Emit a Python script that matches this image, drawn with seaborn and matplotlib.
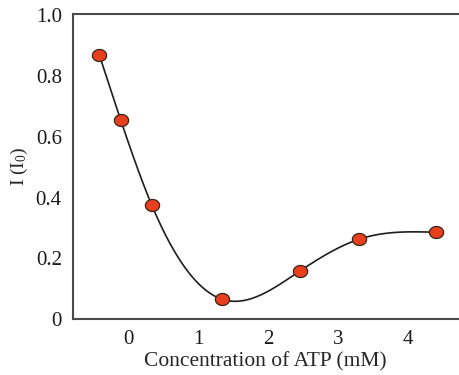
import numpy as np
import pandas as pd
import matplotlib
matplotlib.use("Agg")
import matplotlib.pyplot as plt
import seaborn as sns

# === data ===
atp_mM = [-0.42, -0.115, 0.33, 1.33, 2.45, 3.30, 4.40]
intensity = [0.868, 0.655, 0.375, 0.066, 0.158, 0.263, 0.286]
x_ticks = [0, 1, 2, 3, 4]
y_ticks = [0, 0.2, 0.4, 0.6, 0.8, 1.0]
y_tick_labels = ["0", "0.2", "0.4", "0.6", "0.8", "1.0"]


def natural_spline(x, y, xs):
    # natural cubic spline through the measured points (no scipy needed)
    x = np.asarray(x, float)
    y = np.asarray(y, float)
    n = len(x)
    h = np.diff(x)
    A = np.zeros((n, n))
    b = np.zeros(n)
    A[0, 0] = A[-1, -1] = 1
    for i in range(1, n - 1):
        A[i, i - 1] = h[i - 1]
        A[i, i] = 2 * (h[i - 1] + h[i])
        A[i, i + 1] = h[i]
        b[i] = 3 * ((y[i + 1] - y[i]) / h[i] - (y[i] - y[i - 1]) / h[i - 1])
    c = np.linalg.solve(A, b)
    out = np.empty_like(xs)
    for k, v in enumerate(xs):
        i = min(max(np.searchsorted(x, v) - 1, 0), n - 2)
        d = v - x[i]
        bi = (y[i + 1] - y[i]) / h[i] - h[i] * (2 * c[i] + c[i + 1]) / 3
        di = (c[i + 1] - c[i]) / (3 * h[i])
        out[k] = y[i] + bi * d + c[i] * d ** 2 + di * d ** 3
    return out


df = pd.DataFrame({"atp": atp_mM, "I": intensity})
xs = np.linspace(min(atp_mM), max(atp_mM), 400)
curve = pd.DataFrame({"atp": xs, "I": natural_spline(atp_mM, intensity, xs)})

sns.set_style("white")
plt.rcParams["font.family"] = ["Liberation Serif", "DejaVu Serif"]
plt.rcParams["mathtext.default"] = "regular"

fig = plt.figure(figsize=(4.59, 3.75), dpi=100)
ax = fig.add_axes([0.159, 0.149, 0.839, 0.814])

sns.lineplot(data=curve, x="atp", y="I", color="#1e1e1e", linewidth=1.2, ax=ax)

# slightly wide ellipse markers like the original
t = np.linspace(0, 2 * np.pi, 40)
ellipse = np.column_stack([1.18 * np.cos(t), np.sin(t)])
sns.scatterplot(data=df, x="atp", y="I", marker=ellipse, s=105,
                color="#e8401f", edgecolor="#3a2418", linewidth=0.9,
                zorder=3, ax=ax)

ax.set_xlim(-0.80, 4.72)
ax.set_ylim(0, 1.005)
ax.set_xticks(x_ticks)
ax.set_yticks(y_ticks)
ax.set_yticklabels(y_tick_labels)
ax.tick_params(length=0, labelsize=15, pad=8, colors="#1a1a1a")
ax.set_xlabel("Concentration of ATP (mM)", fontsize=15.5, labelpad=2)
ax.set_ylabel("I (I$_0$)", fontsize=14)
ax.yaxis.set_label_coords(-0.112, 0.5)

for s in ["left", "top", "bottom"]:
    ax.spines[s].set_color("#4a4a4a")
    ax.spines[s].set_linewidth(1.5)
ax.spines["right"].set_visible(False)

fig.savefig("out.png", dpi=100)
